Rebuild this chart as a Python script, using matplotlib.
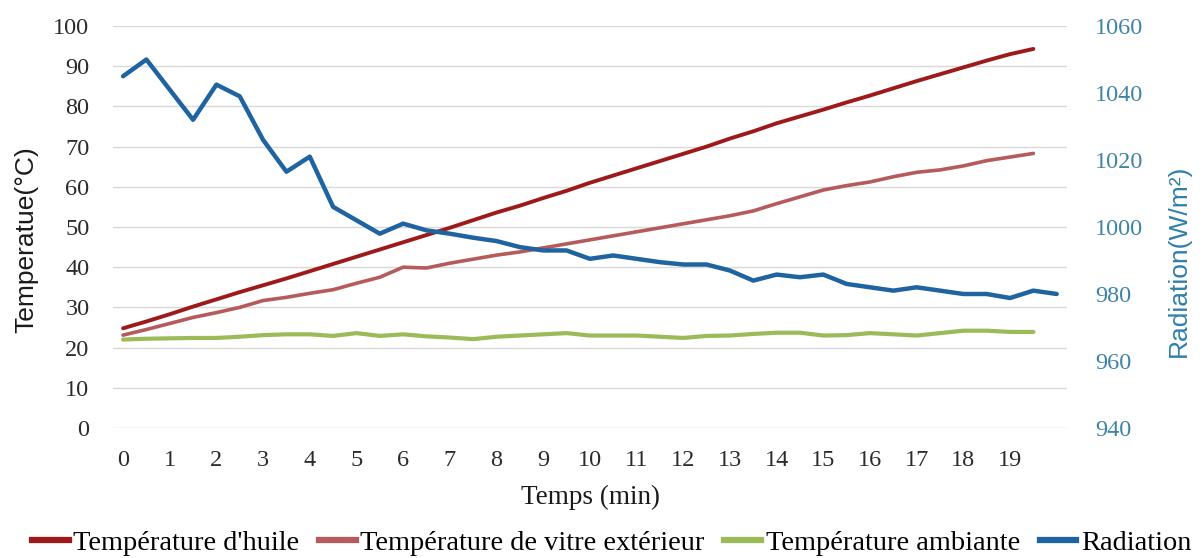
import matplotlib
matplotlib.use("Agg")
import matplotlib.pyplot as plt
from matplotlib.lines import Line2D

# ---- data ----
time_temp = [i * 0.5 for i in range(40)]          # 0 .. 19.5 min
time_rad = [i * 0.5 for i in range(41)]           # 0 .. 20 min

temp_huile = [24.8, 26.5, 28.3, 30.2, 32.0, 33.8, 35.5, 37.2, 39.0, 40.8,
              42.6, 44.4, 46.2, 48.0, 49.8, 51.7, 53.6, 55.3, 57.2, 59.0,
              61.0, 62.8, 64.6, 66.4, 68.2, 70.0, 72.0, 73.8, 75.8, 77.5,
              79.2, 81.0, 82.7, 84.5, 86.3, 88.0, 89.7, 91.4, 93.0, 94.3]

temp_vitre = [23.1, 24.5, 26.0, 27.5, 28.7, 30.0, 31.7, 32.5, 33.5, 34.4,
              36.0, 37.5, 40.0, 39.8, 41.0, 42.0, 43.0, 43.8, 44.8, 45.8,
              46.8, 47.8, 48.8, 49.8, 50.8, 51.8, 52.8, 54.0, 55.8, 57.5,
              59.2, 60.3, 61.2, 62.5, 63.6, 64.2, 65.2, 66.5, 67.4, 68.3]

temp_ambiante = [22.0, 22.2, 22.3, 22.4, 22.4, 22.7, 23.1, 23.3, 23.3, 22.9,
                 23.6, 22.9, 23.3, 22.8, 22.5, 22.1, 22.7, 23.0, 23.3, 23.6,
                 23.0, 23.0, 23.0, 22.7, 22.4, 22.9, 23.0, 23.4, 23.7, 23.7,
                 23.0, 23.1, 23.6, 23.3, 23.0, 23.6, 24.2, 24.2, 23.9, 23.9]

radiation = [1045, 1050, 1041, 1032, 1042.5, 1039, 1026, 1016.5, 1021, 1006,
             1002, 998, 1001, 999, 998, 996.8, 995.8, 994, 993, 993,
             990.5, 991.5, 990.5, 989.5, 988.8, 988.8, 987, 984, 985.8, 985,
             985.8, 983, 982, 981, 982, 981, 980, 980, 978.8, 981, 980]

x_ticks = list(range(20))
left_ticks = list(range(0, 101, 10))
right_ticks = list(range(940, 1061, 20))

labels = ["Température d'huile", "Température de vitre extérieur",
          "Température ambiante", "Radiation"]
colors = ["#9E1A1A", "#B65A5B", "#9BBB59", "#1F63A0"]

# ---- figure ----
fig = plt.figure(figsize=(12.04, 5.58), dpi=100)
ax = fig.add_axes([0.0939, 0.233, 0.7923, 0.7204])
ax2 = ax.twinx()

serif = "Liberation Serif"
sans = "Liberation Sans"

ax.plot(time_temp, temp_huile, color=colors[0], lw=2.8, solid_capstyle="round")
ax.plot(time_temp, temp_vitre, color=colors[1], lw=2.6, solid_capstyle="round")
ax.plot(time_temp, temp_ambiante, color=colors[2], lw=3.0, solid_capstyle="round")
ax2.plot(time_rad, radiation, color=colors[3], lw=3.2, solid_capstyle="round")

ax.set_xlim(-0.214, 20.22)
ax.set_ylim(0, 100)
ax2.set_ylim(940, 1060)
ax.set_yticks(left_ticks)
ax2.set_yticks(right_ticks)
ax.set_xticks(x_ticks)

ax.grid(axis="y", color="#d9d9d9", lw=1)
ax.set_axisbelow(True)
for a in (ax, ax2):
    for s in a.spines.values():
        s.set_visible(False)
    a.tick_params(length=0)

ax.tick_params(axis="y", pad=17)
ax.tick_params(axis="x", pad=16)
ax2.tick_params(axis="y", pad=20)
for t in ax.get_yticklabels() + ax.get_xticklabels():
    t.set_fontfamily(serif)
    t.set_fontsize(17.5)
    t.set_color("#2b2b2b")
for t in ax2.get_yticklabels():
    t.set_fontfamily(serif)
    t.set_fontsize(17.5)
    t.set_color("#3F84A6")

ax.set_ylabel("Temperatue(°C)", fontfamily=sans, fontsize=19, color="#1a1a1a")
ax.yaxis.set_label_coords(-0.0912, 0.468)
ax.yaxis.label.set_va("center")
ax2.set_ylabel("Radiation(W/m²)", fontfamily=sans, fontsize=19, color="#2F80A8")
ax2.yaxis.set_label_coords(1.1174, 0.415)
ax2.yaxis.label.set_va("center")
ax.set_xlabel("Temps (min)", fontfamily=serif, fontsize=19.5, color="#1a1a1a")
ax.xaxis.set_label_coords(0.5, -0.172)
ax.xaxis.label.set_va("center")

handles = [Line2D([], [], color=c, lw=4.5) for c in colors]
fig.legend(handles, labels, loc="center", bbox_to_anchor=(0.508, 0.026),
           ncol=4, frameon=False, prop={"family": serif, "size": 20.4},
           handlelength=1.3, handletextpad=0.15, columnspacing=0.7,
           borderaxespad=0, borderpad=0)

fig.savefig("out.png", dpi=100, facecolor="white")
